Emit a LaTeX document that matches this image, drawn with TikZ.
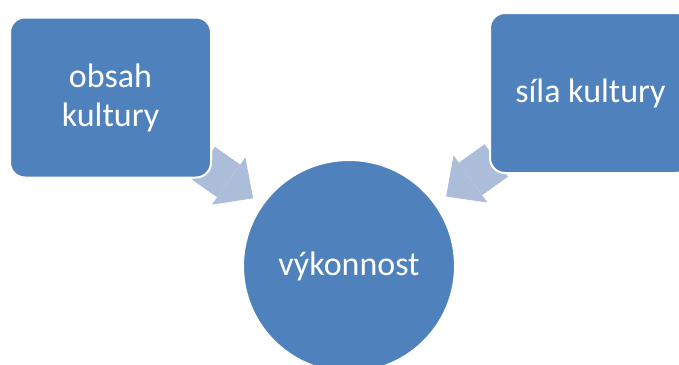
\documentclass[tikz,border=0pt]{standalone}
\usepackage{fontspec}
\setmainfont{Carlito}
\usetikzlibrary{arrows.meta,calc,backgrounds}
\definecolor{boxblue}{RGB}{79,129,189}
\definecolor{arrowblue}{RGB}{172,189,218}

\begin{document}
\begin{tikzpicture}[x=1pt, y=1pt,
    box/.style={rectangle, draw=white, line width=2pt, rounded corners=15pt, fill=boxblue, text=white, minimum width=201pt, minimum height=160pt, align=center, font=\fontsize{34}{39}\selectfont},
    disc/.style={circle, draw=white, line width=2pt, fill=boxblue, text=white, minimum size=212pt, inner sep=0pt, font=\fontsize{34}{39}\selectfont},
    flow/.style={line width=40pt, draw=arrowblue, -{Triangle[length=30pt, width=58pt, line width=0pt]}}
]
\useasboundingbox (0,0) rectangle (679,-364);
\node[box] (obsah) at (110.5,-97.5) {obsah\\kultury};
\node[box] (sila) at (590.5,-93) {síla kultury};
\node[disc] (vykon) at (349,-266) {výkonnost};

\begin{scope}[on background layer]
\draw[flow] ($(obsah)!0.39!(vykon)$) -- ($(obsah)!0.598!(vykon)$);
\draw[flow] ($(sila)!0.39!(vykon)$) -- ($(sila)!0.598!(vykon)$);
\end{scope}
\end{tikzpicture}
\end{document}
